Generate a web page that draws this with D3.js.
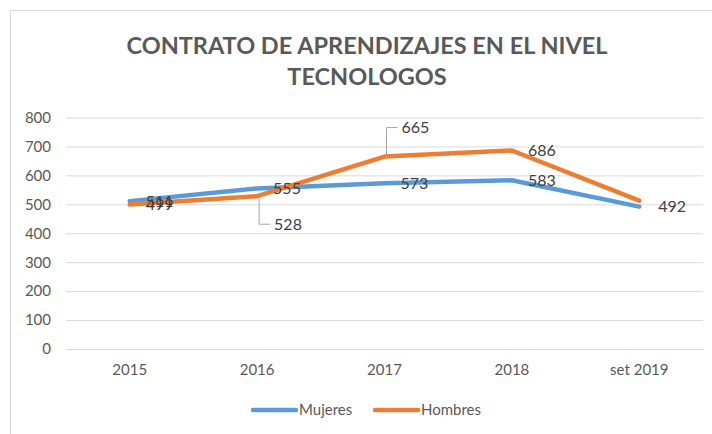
<!DOCTYPE html>
<html>
<head>
<meta charset="utf-8">
<script src="https://cdn.jsdelivr.net/npm/d3@7"></script>
<style>
body { margin: 0; background: #fff; }
svg { font-family: Lato, "Open Sans", sans-serif; }
</style>
</head>
<body>
<svg width="712" height="434"></svg>
<script>
// datos
var categorias = ["2015", "2016", "2017", "2018", "set 2019"];
var mujeres = [511, 555, 573, 583, 492];
var hombres = [499, 528, 665, 686, 513];
var yTicks = [0, 100, 200, 300, 400, 500, 600, 700, 800];
var series = ["Mujeres", "Hombres"];

var colores = {"Mujeres": "#5b9bd5", "Hombres": "#ed7d31"};

var svg = d3.select("svg");

// marco del grafico
svg.append("rect")
	.attr("x", 10.5).attr("y", 10.5)
	.attr("width", 720).attr("height", 440)
	.attr("fill", "none")
	.attr("stroke", "#d9d9d9");

// titulo
var titulo = svg.append("text")
	.attr("text-anchor", "middle")
	.attr("fill", "#595959")
	.attr("font-weight", "bold")
	.attr("font-size", "23.5px");
titulo.append("tspan").attr("x", 367).attr("y", 54).text("CONTRATO DE APRENDIZAJES EN EL NIVEL");
titulo.append("tspan").attr("x", 367).attr("y", 85).text("TECNOLOGOS");

var x = d3.scaleBand().domain(categorias).range([66, 703]);
var y = d3.scaleLinear().domain([0, 800]).range([349, 117.5]);

// grid + eje y
var yAxis = d3.axisLeft(y).tickValues(yTicks).tickSize(-(703 - 66)).tickPadding(15);
var gy = svg.append("g").attr("transform", "translate(66,0)").call(yAxis);
gy.select(".domain").remove();
gy.selectAll("line").attr("stroke", "#d9d9d9").attr("stroke-width", 1);
gy.selectAll("text").attr("fill", "#595959").attr("font-size", "15px").attr("font-family", "Lato, sans-serif");

// eje x
var xAxis = d3.axisBottom(x).tickSize(0).tickPadding(15);
var gx = svg.append("g").attr("transform", "translate(0,349)").call(xAxis);
gx.select(".domain").remove();
gx.selectAll("text").attr("fill", "#595959").attr("font-size", "15px").attr("font-family", "Lato, sans-serif");

var cx = function(d, i){ return x(categorias[i]) + x.bandwidth() / 2; };

var linea = d3.line()
	.x(function(d, i){ return cx(d, i); })
	.y(function(d){ return y(d); });

var datos = {"Mujeres": mujeres, "Hombres": hombres};

series.forEach(function(s){
	svg.append("path")
		.datum(datos[s])
		.attr("fill", "none")
		.attr("stroke", colores[s])
		.attr("stroke-width", 4.5)
		.attr("stroke-linejoin", "round")
		.attr("stroke-linecap", "round")
		.attr("d", linea);
});

// etiquetas de datos
var estiloEtiqueta = function(sel){
	sel.attr("fill", "#404040").attr("font-size", "16px");
};

// mujeres: a la derecha del punto
svg.selectAll(".etqM")
	.data(mujeres)
	.enter()
	.append("text")
	.attr("class", "etqM")
	.attr("x", function(d, i){ return cx(d, i) + (i == 4 ? 19 : 16); })
	.attr("y", function(d){ return y(d) + 5.5; })
	.text(function(d){ return d; })
	.call(estiloEtiqueta);

// hombres: 2015 y 2018 a la derecha, 2016 y 2017 con linea guia, set 2019 oculta
var etqH = [
	{i: 0, dx: 16, dy: 0, guia: false},
	{i: 1, dx: 17, dy: 28, guia: true},
	{i: 2, dx: 17, dy: -29, guia: true},
	{i: 3, dx: 16, dy: 0, guia: false}
];

etqH.forEach(function(e){
	var px = cx(null, e.i), py = y(hombres[e.i]);
	if (e.guia) {
		svg.append("path")
			.attr("d", `M${px + 2},${py} L${px + 2},${py + e.dy} L${px + e.dx - 4},${py + e.dy}`)
			.attr("fill", "none")
			.attr("stroke", "#a6a6a6")
			.attr("stroke-width", 1);
	}
	svg.append("text")
		.attr("x", px + e.dx)
		.attr("y", py + e.dy + 5.5)
		.text(hombres[e.i])
		.call(estiloEtiqueta);
});

// leyenda
var leyenda = [
	{s: "Mujeres", x: 253},
	{s: "Hombres", x: 375}
];
leyenda.forEach(function(l){
	svg.append("line")
		.attr("x1", l.x).attr("x2", l.x + 43)
		.attr("y1", 410).attr("y2", 410)
		.attr("stroke", colores[l.s])
		.attr("stroke-width", 4.5)
		.attr("stroke-linecap", "round");
	svg.append("text")
		.attr("x", l.x + 46)
		.attr("y", 415)
		.attr("fill", "#595959")
		.attr("font-size", "15px")
		.text(l.s);
});
</script>
</body>
</html>
